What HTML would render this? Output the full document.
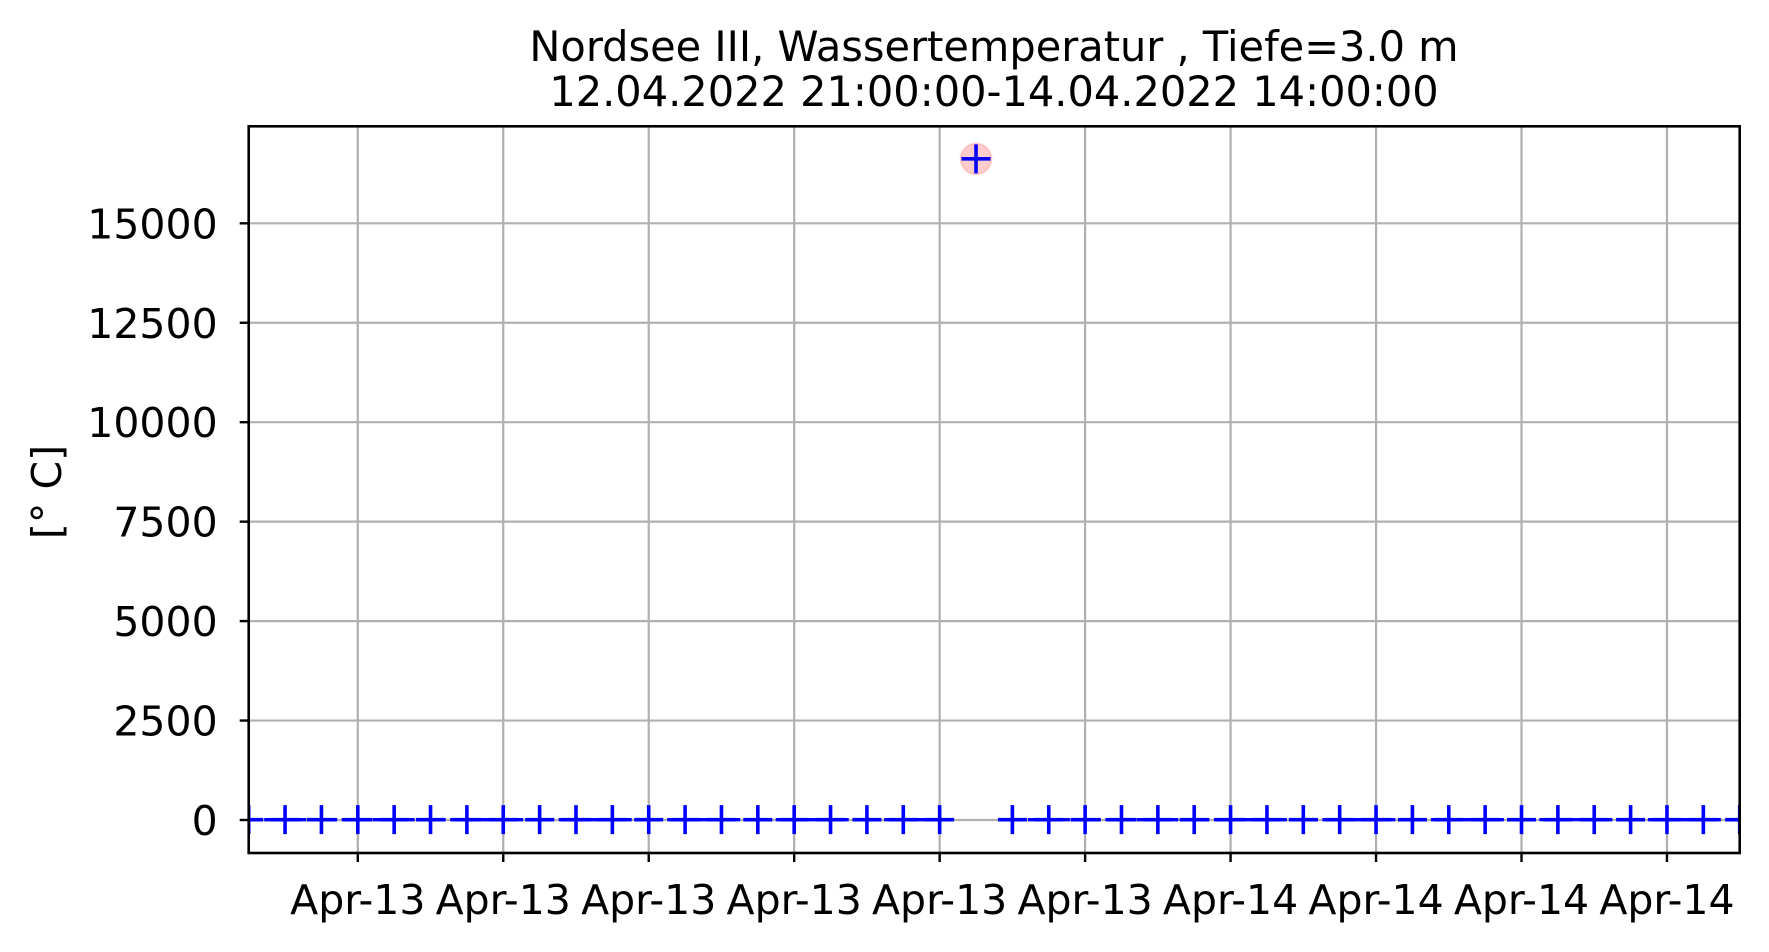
<!DOCTYPE html>
<html><head><meta charset="utf-8"><style>
html,body{margin:0;padding:0;background:#fff;}
svg{display:block;font-family:"DejaVu Sans","Liberation Sans",sans-serif;}
</style></head><body>
<svg id="chart" width="1769" height="952" viewBox="0 0 1769 952" xmlns="http://www.w3.org/2000/svg">
<defs><clipPath id="plotclip"><rect x="248.7" y="126.3" width="1491" height="726.7"/></clipPath></defs>
<rect width="1769" height="952" fill="#fff"/>
<text x="994" y="61" text-anchor="middle" font-size="41.5" fill="#000">Nordsee III, Wassertemperatur , Tiefe=3.0 m</text>
<text x="994" y="106" text-anchor="middle" font-size="41.5" fill="#000">12.04.2022 21:00:00-14.04.2022 14:00:00</text>
<text transform="translate(61,492) rotate(-90)" text-anchor="middle" font-size="41" fill="#000">[° C]</text>
<g id="grid"></g><g id="series" clip-path="url(#plotclip)"></g><g id="axes"></g>
</svg>
<script>
// hours since 12.04.2022 21:00
const hours = [0,1,2,3,4,5,6,7,8,9,10,11,12,13,14,15,16,17,18,19,20,21,22,23,24,25,26,27,28,29,30,31,32,33,34,35,36,37,38,39,40,41];
const temps = [8.1,8.1,8.0,8.0,8.0,8.0,8.0,8.0,8.1,8.1,8.2,8.3,8.3,8.4,8.4,8.4,8.3,8.3,8.2,8.2,16620,8.2,8.1,8.1,8.1,8.0,8.0,8.0,8.0,8.1,8.1,8.2,8.3,8.4,8.4,8.5,8.5,8.5,8.4,8.4,8.4,8.3];
const outlierIdx = [20];
const yTicks = [0,2500,5000,7500,10000,12500,15000];
const xTickHours = [3,7,11,15,19,23,27,31,35,39];
const xTickLabels = ["Apr-13","Apr-13","Apr-13","Apr-13","Apr-13","Apr-13","Apr-14","Apr-14","Apr-14","Apr-14"];

const L=248.7,R=1739.7,T=126.3,B=853;
const xMin=0,xMax=41,yZero=820,yPer=(820-223.3)/15000;
const X=h=>L+(h-xMin)/(xMax-xMin)*(R-L);
const Y=v=>yZero-v*yPer;
const NS="http://www.w3.org/2000/svg";
function mk(tag,attrs,parent){const e=document.createElementNS(NS,tag);for(const k in attrs)e.setAttribute(k,attrs[k]);parent.appendChild(e);return e;}
const grid=document.getElementById('grid'),series=document.getElementById('series'),axes=document.getElementById('axes');

yTicks.forEach((t,i)=>{
  const y=Y(t);
  const g=mk('line',{x1:L,x2:R,y1:y,y2:y,stroke:'#b0b0b0','stroke-width':2.2},grid);
  
  
  const tk=mk('line',{x1:L-9,x2:L,y1:y,y2:y,stroke:'#000','stroke-width':2.4},axes);
  
  
  const tx=mk('text',{x:L-31,y:y+15,'text-anchor':'end','font-size':41,fill:'#000'},axes);
  tx.textContent=String(t);
  
  
});
xTickHours.forEach((h,i)=>{
  const x=X(h);
  const g=mk('line',{x1:x,x2:x,y1:T,y2:B,stroke:'#b0b0b0','stroke-width':2.2},grid);
  
  
  const tk=mk('line',{x1:x,x2:x,y1:B,y2:B+9,stroke:'#000','stroke-width':2.4},axes);
  
  
  const tx=mk('text',{x:x,y:914,'text-anchor':'middle','font-size':41,fill:'#000'},axes);
  tx.textContent=xTickLabels[i];
  
  
});
let seg=[];
const segs=[];
hours.forEach((h,i)=>{ if(outlierIdx.includes(i)){ if(seg.length)segs.push(seg); seg=[]; } else seg.push([X(h),Y(temps[i])]); });
if(seg.length)segs.push(seg);
segs.forEach(s=>{
  const p=mk('polyline',{points:s.map(q=>q.join(',')).join(' '),fill:'none',stroke:'#0000ff','stroke-width':3.3,'stroke-dasharray':'11 4.5'},series);
  
  
});
outlierIdx.forEach(i=>{
  const c=mk('circle',{cx:X(hours[i]),cy:Y(temps[i]),r:15.5,fill:'rgba(255,0,0,0.2)',stroke:'rgba(255,0,0,0.12)','stroke-width':2},series);
  
  
});
hours.forEach((h,i)=>{
  const x=X(h),y=Y(temps[i]);
  const m=mk('path',{d:`M${x-14.5},${y}H${x+14.5}M${x},${y-14.5}V${y+14.5}`,stroke:'#0000ff','stroke-width':3.6,fill:'none'},series);
  
  
});
const frame=mk('rect',{x:L,y:T,width:R-L,height:B-T,fill:'none',stroke:'#000','stroke-width':2.6},axes);


</script>
</body></html>
